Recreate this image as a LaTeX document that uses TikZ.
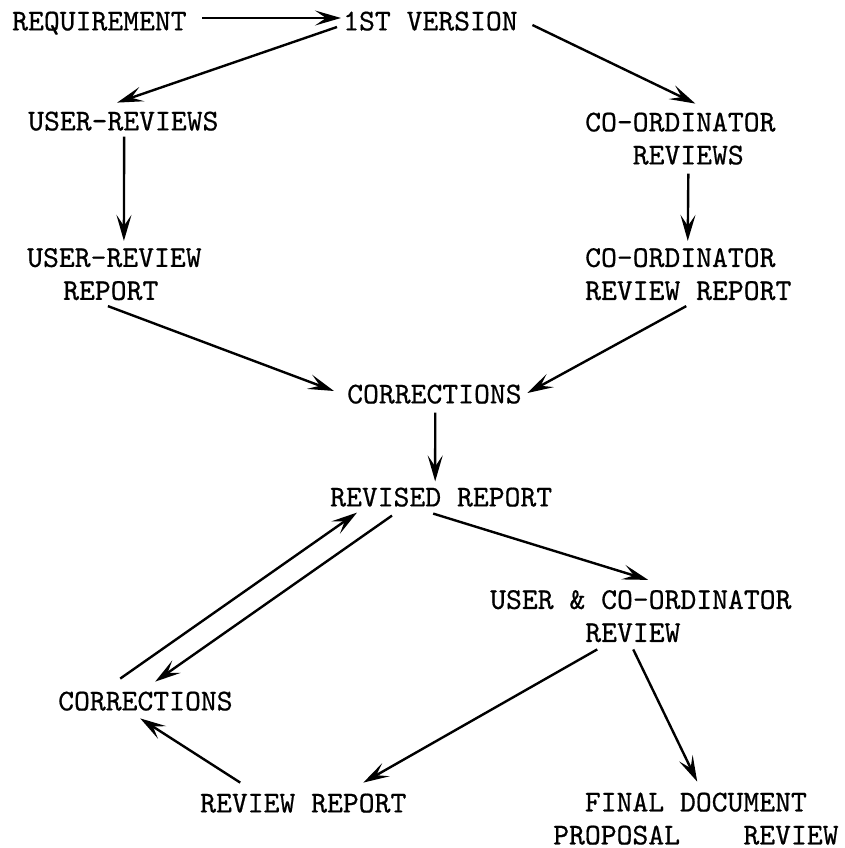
\documentclass[tikz,border=0pt]{standalone}
\usepackage{fontspec}
\setmonofont{lmmono10-regular.otf}[FakeBold=0.6]
\usetikzlibrary{arrows.meta}
\newcommand\diagfont{\ttfamily\fontsize{30.2}{33}\selectfont}
\begin{document}
\begin{tikzpicture}[x=1pt,y=-1pt,
  lbl/.style={font=\diagfont, inner sep=0pt, text depth=0pt},
  arr/.style={-{Stealth[length=26pt,width=15pt,inset=11pt]}, line width=2.4pt}]
\useasboundingbox (0,0) rectangle (845,848);
\node[lbl, anchor=west] (REQ) at (12,21) {REQUIREMENT};
\node[lbl, anchor=west] (V1) at (343,21) {1ST VERSION};
\node[lbl, anchor=west] (UR) at (28,121) {USER-REVIEWS};
\node[lbl, anchor=west, align=left] (CR) at (585,138.5) {CO-ORDINATOR\\\phantom{XXX}REVIEWS};
\node[lbl, anchor=west, align=left] (URR) at (27,274) {USER-REVIEW\\\hspace*{36pt}REPORT};
\node[lbl, anchor=west, align=left] (CRR) at (585,274) {CO-ORDINATOR\\REVIEW REPORT};
\node[lbl, anchor=west] (C1) at (347,394) {CORRECTIONS};
\node[lbl, anchor=west] (RR) at (330,497) {REVISED REPORT};
\node[lbl, anchor=west, align=left] (UC) at (490,616) {USER \& CO-ORDINATOR\\\phantom{XXXXXX}REVIEW};
\node[lbl, anchor=west] (C2) at (58,701) {CORRECTIONS};
\node[lbl, anchor=west] (REVR) at (200,803) {REVIEW REPORT};
\node[lbl, anchor=west, align=left] (FD) at (553,818.5) {\phantom{XX}FINAL DOCUMENT\\PROPOSAL\phantom{XXXX}REVIEW};

\draw[arr] ([shift={(15.6,-3)}]REQ.east) -- ([shift={(-2,-3)}]V1.west);
\draw[arr] ([shift={(-6,6)}]V1.west) -- ([shift={(-6.2,-8.8)}]UR.north);
\draw[arr] ([shift={(14.6,4)}]V1.east) -- ([shift={(15,-8.8)}]CR.north);
\draw[arr] ([shift={(0.8,6)}]UR.south) -- ([shift={(9.5,-7)}]URR.north);
\draw[arr] ([shift={(8,9)}]CR.south) -- ([shift={(-0.5,-7)}]CRR.north);
\draw[arr] ([shift={(-6.5,6)}]URR.south) -- ([shift={(-13,-3)}]C1.west);
\draw[arr] ([shift={(-2,6)}]CRR.south) -- ([shift={(5.6,-1)}]C1.east);
\draw[arr] ([shift={(0.8,9)}]C1.south) -- ([shift={(-6,-6)}]RR.north);
\draw[arr] ([shift={(-8,7)}]RR.south) -- ([shift={(7.4,-10)}]UC.north);
\draw[arr] ([shift={(-25.2,-12.8)}]C2.north) -- ([shift={(27,6)}]RR.south west);
\draw[arr] ([shift={(62,9)}]RR.south west) -- ([shift={(9.8,-9.8)}]C2.north);
\draw[arr] ([shift={(-43.6,7.3)}]UC.south) -- ([shift={(60,-10.8)}]REVR.north);
\draw[arr] ([shift={(-7.6,7.3)}]UC.south) -- ([shift={(1.3,-10.8)}]FD.north);
\draw[arr] ([shift={(-63,-10.8)}]REVR.north) -- ([shift={(-5.2,7.8)}]C2.south);
\end{tikzpicture}
\end{document}
